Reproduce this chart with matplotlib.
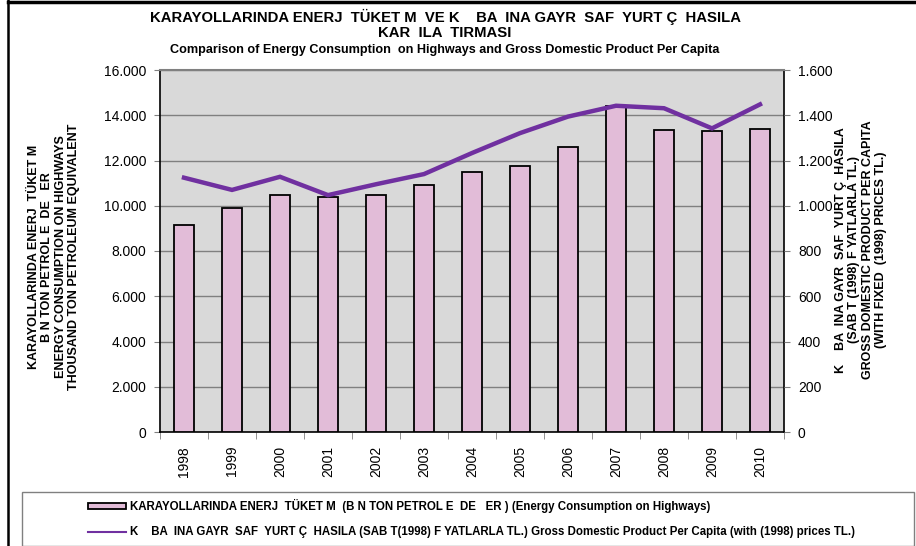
import matplotlib.pyplot as plt
import numpy as np
from matplotlib.patches import Rectangle
from matplotlib.lines import Line2D
from matplotlib.ticker import FuncFormatter

plt.rcParams['font.family'] = ['Liberation Sans', 'DejaVu Sans']

years = ['1998', '1999', '2000', '2001', '2002', '2003', '2004',
         '2005', '2006', '2007', '2008', '2009', '2010']
energy = [9160, 9900, 10490, 10380, 10460, 10930, 11490,
          11770, 12600, 14400, 13360, 13290, 13410]
gdp = [1124, 1070, 1128, 1047, 1095, 1140, 1233,
       1321, 1394, 1442, 1431, 1342, 1448]

bar_color = '#E2BCD8'
line_color = '#7030A0'

fig = plt.figure(figsize=(9.16, 5.46), dpi=100)
ax = fig.add_axes([160 / 916, 1 - 432 / 546, (784 - 160) / 916, (432 - 70) / 546])
ax.set_facecolor('#D9D9D9')

x = np.arange(len(years))
ax.bar(x, energy, width=0.42, color=bar_color, edgecolor='black', linewidth=1.3, zorder=3)
ax.set_xlim(-0.5, len(years) - 0.5)
ax.set_ylim(0, 16000)
ax.set_yticks(np.arange(0, 16001, 2000))
dot_fmt = FuncFormatter(lambda v, p: f"{v:,.0f}".replace(',', '.'))
ax.yaxis.set_major_formatter(dot_fmt)
ax.grid(axis='y', color='#808080', linewidth=1, zorder=1)
ax.set_xticks(x)
ax.set_xticklabels(years, rotation=90, fontsize=10)
ax.set_xticks(np.arange(-0.5, len(years), 1), minor=True)
ax.tick_params(axis='x', which='major', length=0, pad=10)
ax.tick_params(axis='x', which='minor', length=5, color='#808080')
ax.tick_params(axis='y', labelsize=10, length=4, color='#808080', pad=6)
for s in ['left', 'bottom', 'right']:
    ax.spines[s].set_color('black')
    ax.spines[s].set_linewidth(1.2)
ax.spines['top'].set_color('#808080')
ax.spines['top'].set_linewidth(1.5)

ax2 = ax.twinx()
ax2.plot(x, gdp, color=line_color, linewidth=3.2, solid_joinstyle='miter', zorder=5)
ax2.set_ylim(0, 1600)
ax2.set_yticks(np.arange(0, 1601, 200))
ax2.yaxis.set_major_formatter(dot_fmt)
ax2.tick_params(axis='y', labelsize=10, length=4, color='#808080', pad=6)
for s in ax2.spines.values():
    s.set_visible(False)

# titles
fig.text(445 / 916, 1 - 17 / 546,
         'KARAYOLLARINDA ENERJ  TÜKET M  VE K    BA  INA GAYR  SAF  YURT Ç  HASILA',
         ha='center', va='center', fontsize=10.7, fontweight='bold')
fig.text(445 / 916, 1 - 33 / 546, 'KAR  ILA  TIRMASI',
         ha='center', va='center', fontsize=10.7, fontweight='bold')
fig.text(445 / 916, 1 - 50 / 546,
         'Comparison of Energy Consumption  on Highways and Gross Domestic Product Per Capita',
         ha='center', va='center', fontsize=9.1, fontweight='bold')

# axis labels
left_label = ('KARAYOLLARINDA ENERJ  TÜKET M\nB N TON PETROL E  DE   ER\n'
              'ENERGY CONSUMPTION ON HIGHWAYS\nTHOUSAND TON PETROLEUM EQUIVALENT')
fig.text(54 / 916, 1 - 257 / 546, left_label, rotation=90, ha='center', va='center',
         fontsize=9, fontweight='bold', linespacing=1.12, multialignment='center')
right_label = ('K    BA  INA GAYR  SAF  YURT Ç  HASILA\n(SAB T (1998) F YATLARLA TL.)\n'
               'GROSS DOMESTIC PRODUCT PER CAPITA\n(WITH FIXED  (1998) PRICES TL.)')
fig.text(861 / 916, 1 - 250 / 546, right_label, rotation=90, ha='center', va='center',
         fontsize=9, fontweight='bold', linespacing=1.12, multialignment='center')

# outer border
fig.add_artist(Line2D([8 / 916, 8 / 916], [0, 1], color='black', linewidth=1.8))
fig.add_artist(Line2D([8 / 916, 1], [1 - 1.5 / 546, 1 - 1.5 / 546], color='black', linewidth=2.5))

# legend box
fig.add_artist(Rectangle((22 / 916, 0), (914 - 22) / 916, (546 - 492) / 546,
                         transform=fig.transFigure, facecolor='white',
                         edgecolor='#808080', linewidth=1))
fig.add_artist(Rectangle((88 / 916, 1 - 509 / 546), 38 / 916, 6 / 546,
                         transform=fig.transFigure, facecolor=bar_color,
                         edgecolor='black', linewidth=1.3))
fig.add_artist(Line2D([88 / 916, 126 / 916], [1 - 532 / 546, 1 - 532 / 546],
                      color=line_color, linewidth=1.5))
fig.text(130 / 916, 1 - 506 / 546,
         'KARAYOLLARINDA ENERJ  TÜKET M  (B N TON PETROL E  DE   ER ) (Energy Consumption on Highways)',
         ha='left', va='center', fontsize=8.3, fontweight='bold')
fig.text(130 / 916, 1 - 532 / 546,
         'K    BA  INA GAYR  SAF  YURT Ç  HASILA (SAB T(1998) F YATLARLA TL.) '
         'Gross Domestic Product Per Capita (with (1998) prices TL.)',
         ha='left', va='center', fontsize=8.3, fontweight='bold')

fig.savefig('out.png', dpi=100)
